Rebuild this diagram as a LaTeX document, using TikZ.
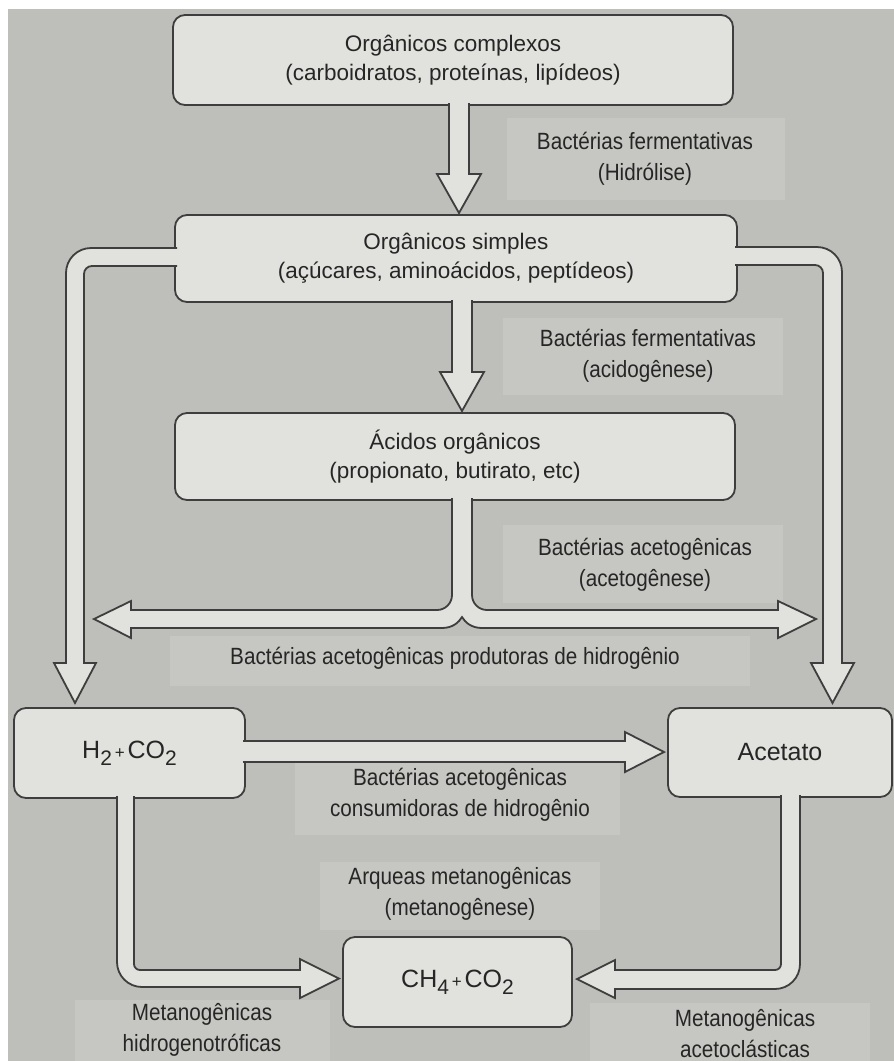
\documentclass[tikz,border=0pt]{standalone}
\usepackage{fontspec}
\setmainfont{Liberation Sans}
\newfontfamily\lblfont[FakeStretch=0.88]{Liberation Sans}
\usetikzlibrary{calc}
\definecolor{bg}{RGB}{190,190,186}
\definecolor{patch}{RGB}{198,198,194}
\definecolor{boxfill}{RGB}{225,225,221}
\definecolor{edge}{RGB}{62,62,62}
\definecolor{ink}{RGB}{38,38,38}
\newcommand{\subnum}[1]{\raisebox{-7pt}{\fontsize{21}{21}\selectfont #1}}
\newcommand{\plussign}{{\fontsize{17}{17}\selectfont\,+\,}}
\begin{document}
\begin{tikzpicture}[x=1pt,y=1pt,
  box/.style={draw=edge, line width=1.8pt, fill=boxfill, rounded corners=12pt,
    inner sep=0pt, align=center, text=ink, font={\fontsize{22.5}{29}\selectfont}},
  small/.style={font={\fontsize{25}{28}\selectfont}},
  hollow/.style={draw=edge, line width=1.8pt, fill=boxfill, line join=miter},
  lbl/.style={text=ink, align=center, inner sep=0pt, font={\lblfont\fontsize{23.5}{31}\selectfont}},
  patchbox/.style={fill=patch, draw=none}]
\useasboundingbox (0,0) rectangle (894,-1061);
\fill[white] (0,0) rectangle (894,-1061);
\fill[bg] (8,-9) rectangle (894,-1061);
% faint label patches
\fill[patchbox] (507,-118) rectangle (785,-200);
\fill[patchbox] (503,-318) rectangle (783,-395);
\fill[patchbox] (503,-525) rectangle (783,-603);
\fill[patchbox] (170,-636) rectangle (750,-686);
\fill[patchbox] (295,-762) rectangle (620,-835);
\fill[patchbox] (320,-862) rectangle (600,-930);
\fill[patchbox] (75,-1000) rectangle (330,-1061);
\fill[patchbox] (590,-1003) rectangle (870,-1061);
% boxes
\node[box, minimum width=560pt, minimum height=90pt] (b1) at (453,-60)
  {Orgânicos complexos\\(carboidratos, proteínas, lipídeos)};
\node[box, minimum width=562pt, minimum height=87pt] (b2) at (456,-258.5)
  {Orgânicos simples\\(açúcares, aminoácidos, peptídeos)};
\node[box, minimum width=560pt, minimum height=87pt] (b3) at (455,-456.5)
  {Ácidos orgânicos\\(propionato, butirato, etc)};
\node[box, small, minimum width=231pt, minimum height=90pt] (h2) at (129.5,-753)
  {H\subnum{2}\plussign CO\subnum{2}};
\node[box, small, minimum width=224pt, minimum height=89pt] (ac) at (780,-752.5)
  {Acetato};
\node[box, small, minimum width=229pt, minimum height=90pt] (ch4) at (457.5,-982)
  {CH\subnum{4}\plussign CO\subnum{2}};
% hollow arrows
\draw[hollow] (449,-103) -- (449,-174) -- (437,-174) -- (459,-213) -- (481,-174) -- (469,-174) -- (469,-103);
\draw[hollow] (452,-300) -- (452,-372) -- (440,-372) -- (462,-411) -- (484,-372) -- (472,-372) -- (472,-300);
\draw[hollow] (177,-248) -- (91,-248) arc[start angle=90,end angle=180,radius=25pt]
  -- (66,-663) -- (54,-663) -- (75,-703) -- (96,-663) -- (84,-663)
  -- (84,-274) arc[start angle=180,end angle=90,radius=8pt] -- (177,-266);
\draw[hollow] (735,-247) -- (817,-247) arc[start angle=90,end angle=0,radius=25pt]
  -- (842,-663) -- (854,-663) -- (832.5,-703) -- (811,-663) -- (823,-663)
  -- (823,-273) arc[start angle=0,end angle=90,radius=8pt] -- (735,-265);
\draw[hollow] (452,-498) -- (452,-595) arc[start angle=0,end angle=-90,radius=15pt]
  -- (131,-610) -- (131,-601) -- (94,-619) -- (131,-638) -- (131,-628)
  -- (442,-628) .. controls (453,-628) and (459,-622) .. (462,-617)
  .. controls (465,-622) and (471,-628) .. (482,-628)
  -- (778,-628) -- (778,-638) -- (816,-619) -- (778,-601) -- (778,-610)
  -- (487,-610) arc[start angle=270,end angle=180,radius=15pt] -- (472,-498);
\draw[hollow] (243,-741) -- (625,-741) -- (625,-732) -- (664,-752) -- (625,-772) -- (625,-762) -- (243,-762);
\draw[hollow] (117,-796) -- (117,-962) arc[start angle=180,end angle=270,radius=25pt]
  -- (300,-987) -- (300,-998) -- (339,-978.5) -- (300,-959) -- (300,-970)
  -- (140,-970) arc[start angle=270,end angle=180,radius=6pt] -- (134,-796);
\draw[hollow] (800,-795) -- (800,-964) arc[start angle=0,end angle=-90,radius=25pt]
  -- (615,-989) -- (615,-998) -- (577,-979) -- (615,-960) -- (615,-970)
  -- (775,-970) arc[start angle=-90,end angle=0,radius=6pt] -- (781,-795);
% labels
\node[lbl] (l1) at (645,-158.5) {Bactérias fermentativas\\(Hidrólise)};
\node[lbl] (l2) at (648,-356) {Bactérias fermentativas\\(acidogênese)};
\node[lbl] (l3) at (645,-565) {Bactérias acetogênicas\\(acetogênese)};
\node[lbl] (l4) at (455,-658) {Bactérias acetogênicas produtoras de hidrogênio};
\node[lbl] (l5) at (460,-795) {Bactérias acetogênicas\\consumidoras de hidrogênio};
\node[lbl] (l6) at (460,-894) {Arqueas metanogênicas\\(metanogênese)};
\node[lbl] (l7) at (202,-1029.5) {Metanogênicas\\hidrogenotróficas};
\node[lbl] (l8) at (745,-1033.5) {Metanogênicas\\acetoclásticas};
\end{tikzpicture}
\end{document}
